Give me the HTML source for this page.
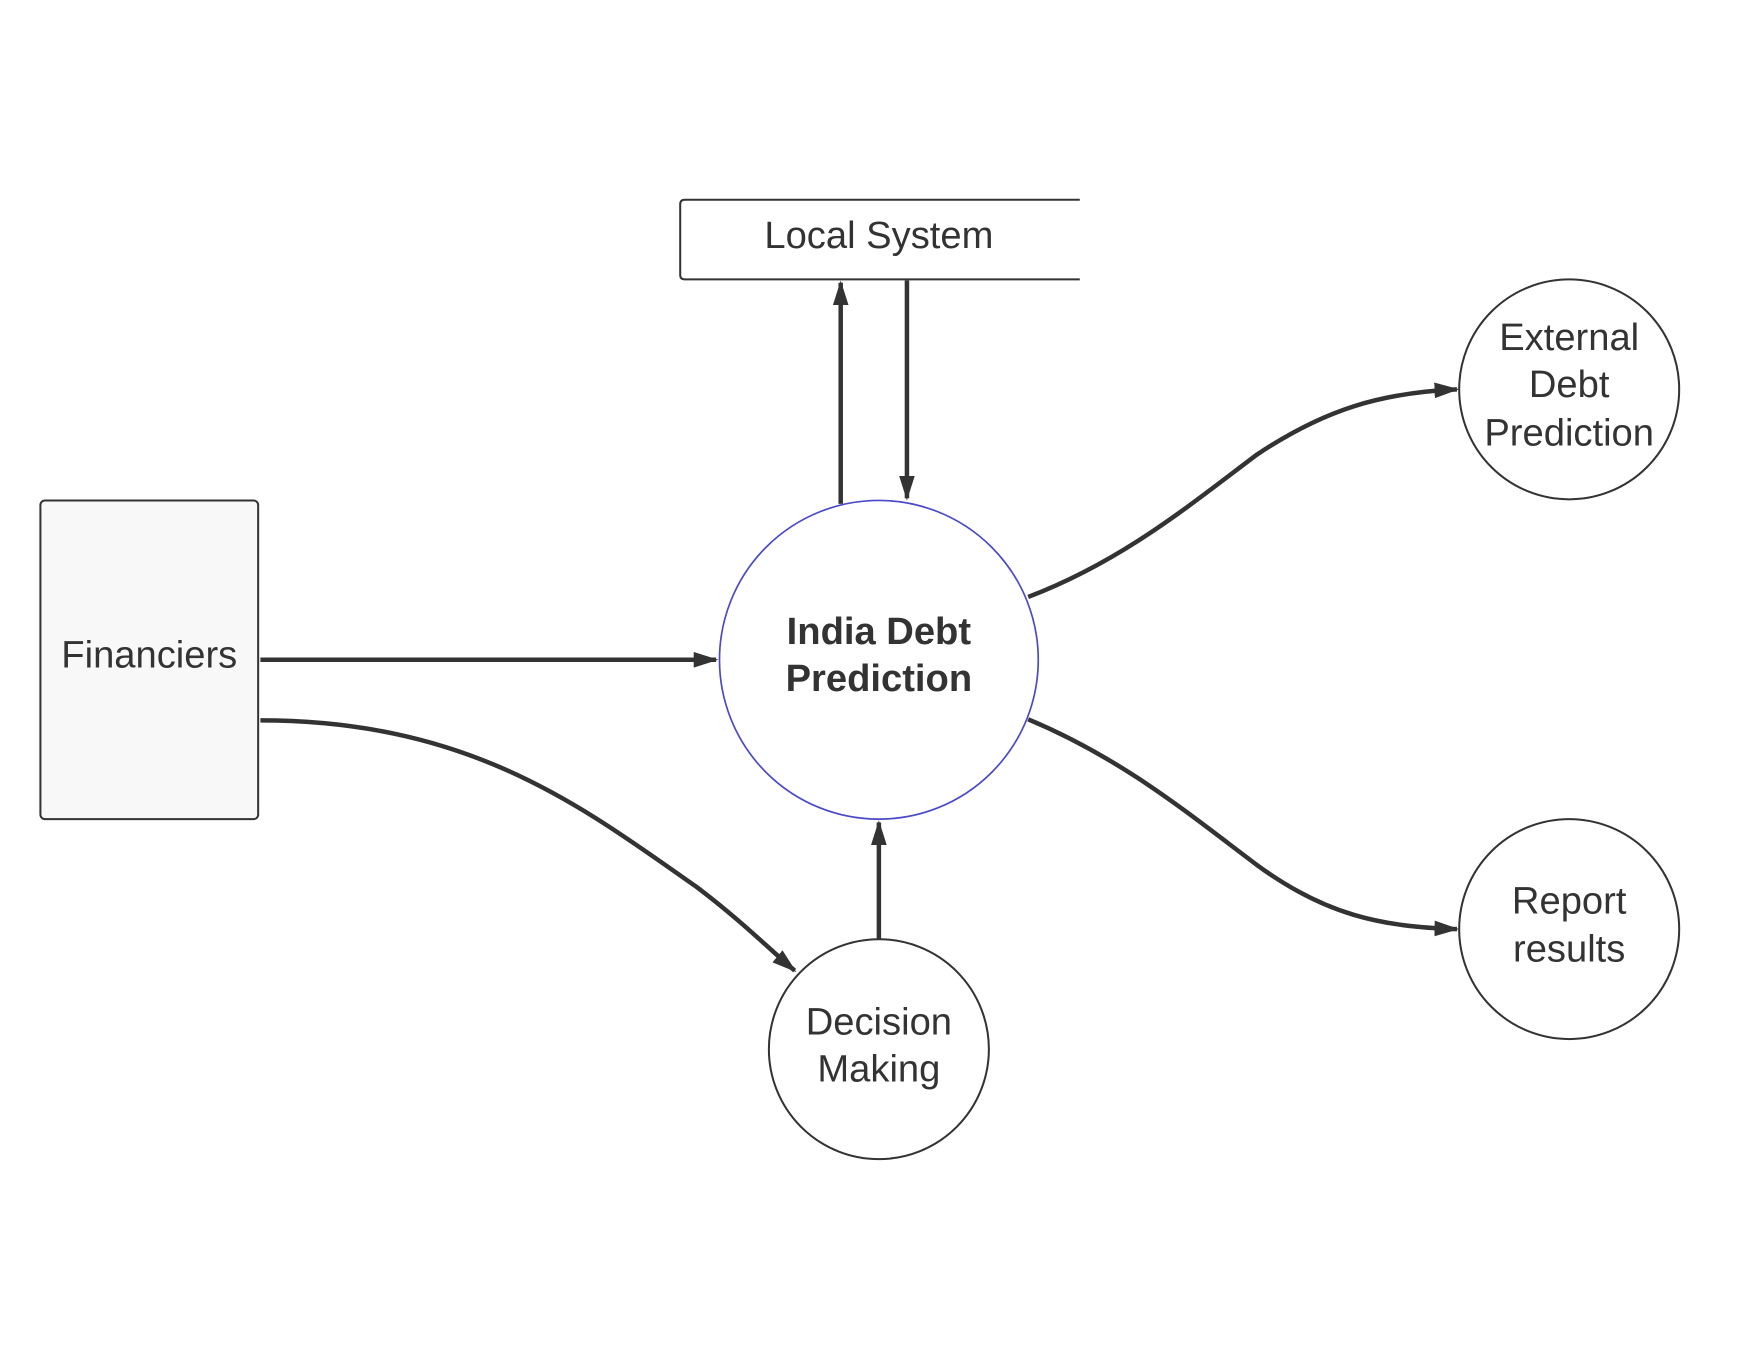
<!DOCTYPE html>
<html><head><meta charset="utf-8"><style>
html,body{margin:0;padding:0;background:#fff;}
svg{display:block;}
text{font-family:"Liberation Sans",Arial,sans-serif;fill:#333;}
</style></head><body>
<svg width="1760" height="1360" viewBox="0 0 1568 1212" preserveAspectRatio="none" xmlns="http://www.w3.org/2000/svg">
<defs>
<marker id="a" markerWidth="22" markerHeight="14" refX="20" refY="7" orient="auto" markerUnits="userSpaceOnUse" viewBox="0 0 22 14">
<path d="M0,0 L22,7 L0,14 Z" fill="#333"/>
</marker>
</defs>
<rect width="1568" height="1212" fill="#fff"/>
<path d="M962,178 L610,178 Q606,178 606,182 L606,245 Q606,249 610,249 L962,249" fill="#fff" stroke="#333" stroke-width="1.8"/>
<text x="783" y="221" font-size="34" text-anchor="middle">Local System</text>
<g stroke="#333" stroke-width="4" fill="none">
<line x1="749" y1="449" x2="749" y2="252" marker-end="url(#a)"/>
<line x1="808" y1="250" x2="808" y2="444" marker-end="url(#a)"/>
<line x1="232" y1="588" x2="638" y2="588" marker-end="url(#a)"/>
<path d="M232,642 C420,642 520,720 620,790 C660,820 690,850 708,865" marker-end="url(#a)"/>
<line x1="783" y1="837" x2="783" y2="733" marker-end="url(#a)"/>
<path d="M916,532 C1000,500 1060,450 1120,405 C1180,365 1230,350 1298,347" marker-end="url(#a)"/>
<path d="M916,641 C1000,676 1060,726 1120,771 C1180,815 1230,826 1298,828" marker-end="url(#a)"/>
</g>
<rect x="36" y="446" width="194" height="284" rx="4" fill="#f8f8f8" stroke="#333" stroke-width="1.8"/>
<text x="133" y="595" font-size="34" text-anchor="middle">Financiers</text>
<circle cx="783" cy="588" r="142" fill="#fff" stroke="#4a4ac8" stroke-width="1.5"/>
<text x="783" y="574" font-size="34" font-weight="bold" text-anchor="middle">India Debt</text>
<text x="783" y="616" font-size="34" font-weight="bold" text-anchor="middle">Prediction</text>
<circle cx="783" cy="935" r="98" fill="#fff" stroke="#333" stroke-width="1.8"/>
<text x="783" y="922" font-size="34" text-anchor="middle">Decision</text>
<text x="783" y="964" font-size="34" text-anchor="middle">Making</text>
<circle cx="1398" cy="347" r="98" fill="#fff" stroke="#333" stroke-width="1.8"/>
<text x="1398" y="312" font-size="34" text-anchor="middle">External</text>
<text x="1398" y="354" font-size="34" text-anchor="middle">Debt</text>
<text x="1398" y="397" font-size="34" text-anchor="middle">Prediction</text>
<circle cx="1398" cy="828" r="98" fill="#fff" stroke="#333" stroke-width="1.8"/>
<text x="1398" y="814" font-size="34" text-anchor="middle">Report</text>
<text x="1398" y="857" font-size="34" text-anchor="middle">results</text>
</svg>
</body></html>
